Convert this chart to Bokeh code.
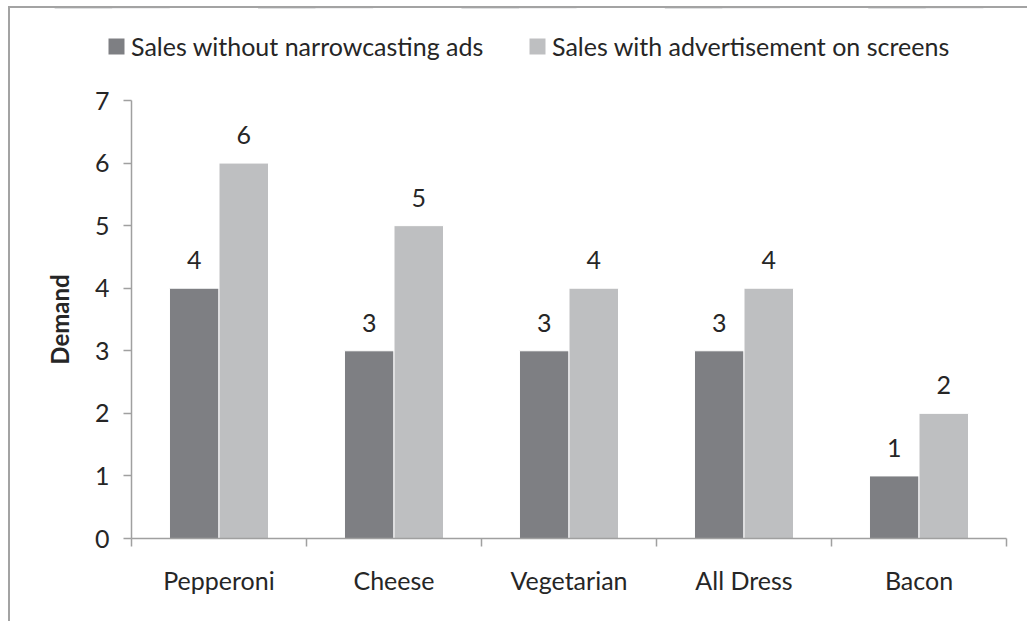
from bokeh.plotting import figure
from bokeh.layouts import column
from bokeh.models import (ColumnDataSource, Range1d, FixedTicker, LabelSet,
                          Legend, LegendItem)
from bokeh.core.properties import value
from bokeh.embed import file_html
from bokeh.resources import INLINE

categories = ["Pepperoni", "Cheese", "Vegetarian", "All Dress", "Bacon"]
without_ads = [4, 3, 3, 3, 1]
with_ads = [6, 5, 4, 4, 2]
series_names = ["Sales without narrowcasting ads", "Sales with advertisement on screens"]
y_ticks = [0, 1, 2, 3, 4, 5, 6, 7]

FONT = "Lato"
FS = "25px"
TEXT = "#262626"
DARK = "#7e7f83"
LIGHT = "#bebfc1"
AXIS = "#a0a0a0"

centers = [i + 0.5 for i in range(len(categories))]
off = 0.1415
bw = 0.283

src1 = ColumnDataSource(dict(x=[c - off for c in centers], top=without_ads,
                             label=[str(v) for v in without_ads]))
src2 = ColumnDataSource(dict(x=[c + off for c in centers], top=with_ads,
                             label=[str(v) for v in with_ads]))

# ---- legend strip (top of the bordered area) ----
lg = figure(width=1017, height=72, x_range=Range1d(0, len(categories)),
            y_range=Range1d(-2, -1),
            x_axis_type=None, y_axis_type=None,
            output_backend="svg", toolbar_location=None,
            min_border_left=0, min_border_right=0, min_border_top=0,
            min_border_bottom=0)
lg.outline_line_color = None
lg.xgrid.grid_line_color = None
lg.ygrid.grid_line_color = None
lg.border_fill_color = "white"
lg.background_fill_color = "white"
# same series, out of this strip's view: only their legend swatches show
k1 = lg.vbar(x="x", top="top", width=bw, source=src1, fill_color=DARK, line_color=None)
k2 = lg.vbar(x="x", top="top", width=bw, source=src2, fill_color=LIGHT, line_color=None)
leg = Legend(items=[LegendItem(label=series_names[0], renderers=[k1]),
                    LegendItem(label=series_names[1], renderers=[k2])],
             location=(96, 19), orientation="horizontal",
             padding=0, margin=0, spacing=0, border_line_color=None,
             background_fill_alpha=0, glyph_width=20, glyph_height=20,
             label_standoff=5, label_width=396, label_text_font=FONT,
             label_text_font_size=FS, label_text_color=TEXT)
lg.add_layout(leg, "center")

# ---- main chart ----
p = figure(width=1017, height=541, x_range=Range1d(0, len(categories)),
           y_range=Range1d(y_ticks[0], y_ticks[-1]),
           output_backend="svg", toolbar_location=None,
           min_border_left=121, min_border_right=21, min_border_top=20,
           min_border_bottom=83)
p.outline_line_color = None
p.xgrid.grid_line_color = None
p.ygrid.grid_line_color = None
p.background_fill_color = "white"
p.border_fill_color = "white"

for fig in (lg, p):
    if "frame_align" in fig.properties():
        fig.frame_align = False

r1 = p.vbar(x="x", top="top", width=bw, source=src1, fill_color=DARK,
            line_color="white", line_width=1)
r2 = p.vbar(x="x", top="top", width=bw, source=src2, fill_color=LIGHT,
            line_color="white", line_width=1)

for s in (src1, src2):
    p.add_layout(LabelSet(x="x", y="top", text="label", source=s,
                          text_align="center", text_baseline="alphabetic",
                          y_offset=19, text_font=value(FONT),
                          text_font_size=value(FS), text_color=value(TEXT)))

# x axis: labels at category centers, ticks at category boundaries
xa = p.xaxis[0]
xa.ticker = FixedTicker(ticks=centers, minor_ticks=list(range(len(categories) + 1)))
xa.major_label_overrides = {c: n for c, n in zip(centers, categories)}
xa.major_tick_out = 0
xa.major_tick_in = 0
xa.minor_tick_out = 8
xa.minor_tick_in = 0
xa.minor_tick_line_color = AXIS
xa.minor_tick_line_width = 1.5
xa.axis_line_color = AXIS
xa.axis_line_width = 1.5
xa.major_label_text_font = FONT
xa.major_label_text_font_size = FS
xa.major_label_text_color = TEXT
xa.major_label_standoff = 18

ya = p.yaxis[0]
ya.ticker = FixedTicker(ticks=y_ticks)
ya.major_tick_out = 8
ya.major_tick_in = 0
ya.minor_tick_out = 0
ya.minor_tick_in = 0
ya.major_tick_line_color = AXIS
ya.major_tick_line_width = 1.5
ya.axis_line_color = AXIS
ya.axis_line_width = 1.5
ya.major_label_text_font = FONT
ya.major_label_text_font_size = FS
ya.major_label_text_color = TEXT
ya.major_label_standoff = 14
ya.axis_label = "Demand"
ya.axis_label_text_font = FONT
ya.axis_label_text_font_size = "24px"
ya.axis_label_text_font_style = "bold"
ya.axis_label_text_color = TEXT
ya.axis_label_standoff = 18

layout = column(lg, p, spacing=0,
                styles={"position": "absolute", "left": "8px", "top": "6px",
                        "border-left": "2px solid #a3a3a3",
                        "border-top": "2px solid #a3a3a3",
                        "background": "white"})

open("out.html", "w").write(file_html(layout, INLINE))
